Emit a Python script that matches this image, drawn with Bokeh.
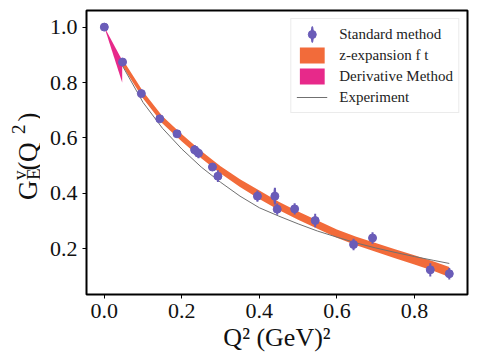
import math
from bokeh.plotting import figure
from bokeh.layouts import row
from bokeh.models import Range1d, Legend, LegendItem, ColumnDataSource
from bokeh.core.properties import value
from bokeh.embed import file_html
from bokeh.resources import INLINE

# Standard method points
q2 = [0.0, 0.047, 0.0955, 0.143, 0.1876, 0.233, 0.243, 0.279, 0.293, 0.395,
      0.44, 0.446, 0.491, 0.544, 0.643, 0.692, 0.841, 0.890]
ge = [1.0, 0.874, 0.760, 0.669, 0.615, 0.557, 0.545, 0.495, 0.462, 0.390,
      0.390, 0.343, 0.344, 0.302, 0.2155, 0.239, 0.124, 0.110]
err = [0.0, 0.01, 0.008, 0.008, 0.01, 0.018, 0.018, 0.01, 0.021, 0.02,
       0.03, 0.02, 0.02, 0.024, 0.021, 0.021, 0.024, 0.021]

# z-expansion fit band
zq = [0.047, 0.1, 0.15, 0.2, 0.25, 0.3, 0.35, 0.4, 0.45, 0.5, 0.55, 0.6,
      0.65, 0.7, 0.75, 0.8, 0.85, 0.89]
zc = [0.872, 0.755, 0.665, 0.600, 0.540, 0.485, 0.437, 0.395, 0.355, 0.320,
      0.287, 0.255, 0.228, 0.205, 0.182, 0.160, 0.137, 0.116]
zh = [0.012, 0.013, 0.013, 0.013, 0.013, 0.013, 0.014, 0.015, 0.015, 0.015,
      0.015, 0.015, 0.015, 0.016, 0.016, 0.017, 0.017, 0.018]

# derivative method wedge
dq = [0.0, 0.046]
dlo = [1.0, 0.80]
dhi = [1.0, 0.88]

# experiment curve
eq = [0.046, 0.1, 0.15, 0.2, 0.25, 0.3, 0.35, 0.4, 0.45, 0.5, 0.55, 0.6,
      0.65, 0.7, 0.75, 0.8, 0.85, 0.89]
ev = [0.862, 0.728, 0.635, 0.560, 0.495, 0.440, 0.390, 0.348, 0.318, 0.290,
      0.264, 0.242, 0.221, 0.203, 0.187, 0.172, 0.158, 0.147]

xticks = [0.0, 0.2, 0.4, 0.6, 0.8]
yticks = [0.2, 0.4, 0.6, 0.8, 1.0]

# y-axis label pieces: G_E^v(Q^2)
ylab_text = ["G", "E", "v", "(", "Q", "2", ")"]

SERIF = "Liberation Serif"
PURPLE = "#6a5cb8"
ORANGE = "#f26b3a"
MAGENTA = "#e7298a"
GRAY = "#707070"
INK = "#111111"

# ---- main figure ----
p = figure(width=440, height=360, output_backend="svg", toolbar_location=None,
           x_range=Range1d(-0.046, 0.937), y_range=Range1d(0.035, 1.06),
           min_border_left=46, min_border_right=13, min_border_top=10,
           min_border_bottom=66)
p.grid.visible = False
p.outline_line_color = "black"
p.outline_line_width = 2

zlo = [c - h for c, h in zip(zc, zh)]
zhi = [c + h for c, h in zip(zc, zh)]
band = p.varea(x=zq, y1=zlo, y2=zhi, fill_color=ORANGE, fill_alpha=1.0)
wedge = p.varea(x=dq, y1=dlo, y2=dhi, fill_color=MAGENTA, fill_alpha=1.0)
expl = p.line(eq, ev, line_color=GRAY, line_width=1)

lo = [g - e for g, e in zip(ge, err)]
hi = [g + e for g, e in zip(ge, err)]
bars = p.segment(x0=q2, y0=lo, x1=q2, y1=hi, line_color=PURPLE, line_width=2)
pts = p.scatter(q2, ge, size=8, fill_color=PURPLE, line_color=PURPLE)

# thin vertical ellipse lying on one error bar; gives the legend its error-bar glyph
k = 10
ebar = p.ellipse(x=[q2[k]], y=[ge[k]], width=2, height=16,
                 width_units="screen", height_units="screen",
                 fill_color=PURPLE, line_color=PURPLE, line_width=1)

legend = Legend(items=[
    LegendItem(label="Standard method", renderers=[ebar, pts]),
    LegendItem(label="z-expansion f t", renderers=[band]),
    LegendItem(label="Derivative Method", renderers=[wedge]),
    LegendItem(label="Experiment", renderers=[expl]),
], location="top_right")
legend.label_text_font = SERIF
legend.label_text_font_size = "15px"
legend.label_text_color = "#222222"
legend.glyph_width = 31
legend.glyph_height = 20
legend.label_height = 20
legend.spacing = 1
legend.padding = 5
legend.margin = 8
legend.label_standoff = 12
legend.border_line_color = "#d8d8d8"
legend.border_line_width = 1
legend.background_fill_alpha = 0.85
p.add_layout(legend)

for ax in (p.xaxis, p.yaxis):
    ax.major_label_text_font = SERIF
    ax.major_label_text_font_size = "22px"
    ax.major_label_text_color = INK
    ax.axis_line_color = None
    ax.major_tick_line_color = "black"
    ax.major_tick_line_width = 1
    ax.major_tick_in = 0
    ax.major_tick_out = 4
    ax.minor_tick_line_color = None
p.xaxis.ticker = xticks
p.yaxis.ticker = yticks
p.xaxis.major_label_overrides = {v: f"{v:.1f}" for v in xticks}
p.yaxis.major_label_overrides = {v: f"{v:.1f}" for v in yticks}

p.xaxis.axis_label = "Q² (GeV)²"
p.xaxis.axis_label_text_font = SERIF
p.xaxis.axis_label_text_font_style = "normal"
p.xaxis.axis_label_text_font_size = "26px"
p.xaxis.axis_label_text_color = INK
p.xaxis.axis_label_standoff = 2

# ---- y-axis label strip (rotated text with sub/superscripts) ----
# its frame is aligned with the main frame (page y 10..294), so the range
# below makes one unit equal one page pixel
lab = figure(width=40, height=360, output_backend="svg", toolbar_location=None,
             x_range=Range1d(0, 40), y_range=Range1d(294, 10),
             x_axis_location=None, y_axis_location=None, min_border=0)
lab.outline_line_color = None
lab.grid.visible = False
lab.background_fill_color = None
lab.border_fill_color = None

# baseline x and upper end y (page px) of each piece, with its font size
lab_src = ColumnDataSource(dict(
    x=[27, 33, 19, 27, 27, 18, 27],
    y=[180, 168, 170, 161, 142, 124, 112],
    text=ylab_text,
    size=["27px", "19px", "19px", "27px", "27px", "19px", "27px"],
))
lab.text(x="x", y="y", text="text", source=lab_src, angle=math.pi / 2,
         text_font=value(SERIF), text_font_size="size", text_color=INK,
         text_baseline="alphabetic", text_align="right")

layout = row(lab, p)
open("out.html", "w").write(file_html(layout, INLINE))
